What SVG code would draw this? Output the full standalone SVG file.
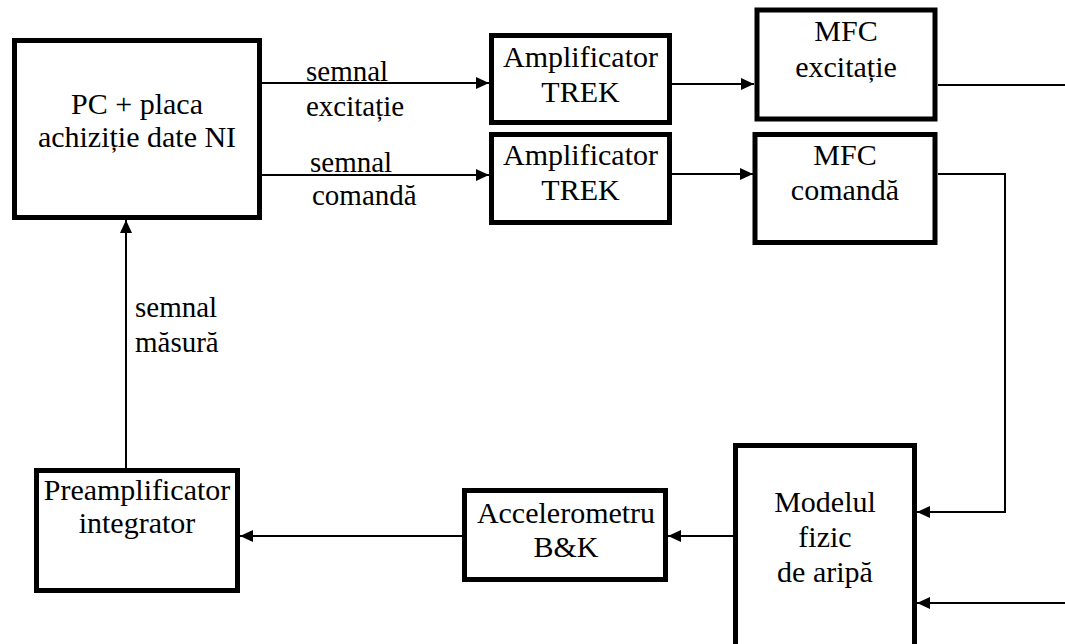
<svg xmlns="http://www.w3.org/2000/svg" width="1065" height="644" viewBox="0 0 1065 644">
<style>
.box{fill:#fff;stroke:#000;stroke-width:5}
text{font-family:"Liberation Serif","Times New Roman",Times,"Nimbus Roman","Nimbus Roman No9 L",FreeSerif,"Noto Serif","DejaVu Serif",Tinos,Georgia,serif;fill:#000}
.t{font-size:30px;text-anchor:middle}
.l{font-size:29px}
.c{fill:none;stroke:#000;stroke-width:2}
</style>
<defs>
<marker id="ah" markerUnits="userSpaceOnUse" markerWidth="14" markerHeight="12" refX="13" refY="6" orient="auto">
<path d="M0,0 L13,6 L0,12 Z" fill="#000"/>
</marker>
</defs>
<rect width="1065" height="644" fill="#fff"/>
<g id="connectors">
<line class="c" x1="262" y1="83" x2="489" y2="83" marker-end="url(#ah)"/>
<line class="c" x1="262" y1="175" x2="489" y2="175" marker-end="url(#ah)"/>
<line class="c" x1="672" y1="84" x2="754" y2="84" marker-end="url(#ah)"/>
<line class="c" x1="672" y1="174" x2="753" y2="174" marker-end="url(#ah)"/>
<line class="c" x1="938" y1="85" x2="1065" y2="85"/>
<polyline class="c" points="938,174 1005,174 1005,512 917,512" marker-end="url(#ah)"/>
<line class="c" x1="1065" y1="603" x2="917" y2="603" marker-end="url(#ah)"/>
<line class="c" x1="733" y1="536" x2="668" y2="536" marker-end="url(#ah)"/>
<line class="c" x1="462" y1="536" x2="240" y2="536" marker-end="url(#ah)"/>
<line class="c" x1="126" y1="468" x2="126" y2="220" marker-end="url(#ah)"/>
<text class="l" x="306" y="81">semnal</text>
<text class="l" x="306" y="116">excitație</text>
<text class="l" x="310" y="172">semnal</text>
<text class="l" x="312" y="205">comandă</text>
<text class="l" x="135" y="317">semnal</text>
<text class="l" x="135" y="352">măsură</text>
</g>
<g id="pc">
<rect class="box" x="14.5" y="40.5" width="245" height="177"/>
<text class="t" x="137" y="114">PC + placa</text>
<text class="t" x="137" y="147">achiziție date NI</text>
</g>
<g id="amp1">
<rect class="box" x="491.5" y="35.5" width="178" height="87"/>
<text class="t" x="580.5" y="67">Amplificator</text>
<text class="t" x="580.5" y="102">TREK</text>
</g>
<g id="amp2">
<rect class="box" x="491.5" y="134.5" width="178" height="88"/>
<text class="t" x="580.5" y="165">Amplificator</text>
<text class="t" x="580.5" y="200">TREK</text>
</g>
<g id="mfc1">
<rect class="box" x="757" y="10" width="178" height="109"/>
<text class="t" x="846" y="41">MFC</text>
<text class="t" x="846" y="77">excitație</text>
</g>
<g id="mfc2">
<rect class="box" x="755" y="134.5" width="180" height="108"/>
<text class="t" x="845" y="165">MFC</text>
<text class="t" x="845" y="200">comandă</text>
</g>
<g id="model">
<rect class="box" x="735.5" y="445.5" width="179" height="210"/>
<text class="t" x="825" y="512">Modelul</text>
<text class="t" x="825" y="547">fizic</text>
<text class="t" x="825" y="582">de aripă</text>
</g>
<g id="accel">
<rect class="box" x="464.5" y="490.5" width="201" height="89"/>
<text class="t" x="566" y="523">Accelerometru</text>
<text class="t" x="566" y="557">B&amp;K</text>
</g>
<g id="preamp">
<rect class="box" x="36.5" y="470.5" width="201" height="120"/>
<text class="t" x="137" y="500">Preamplificator</text>
<text class="t" x="137" y="533">integrator</text>
</g>
</svg>
